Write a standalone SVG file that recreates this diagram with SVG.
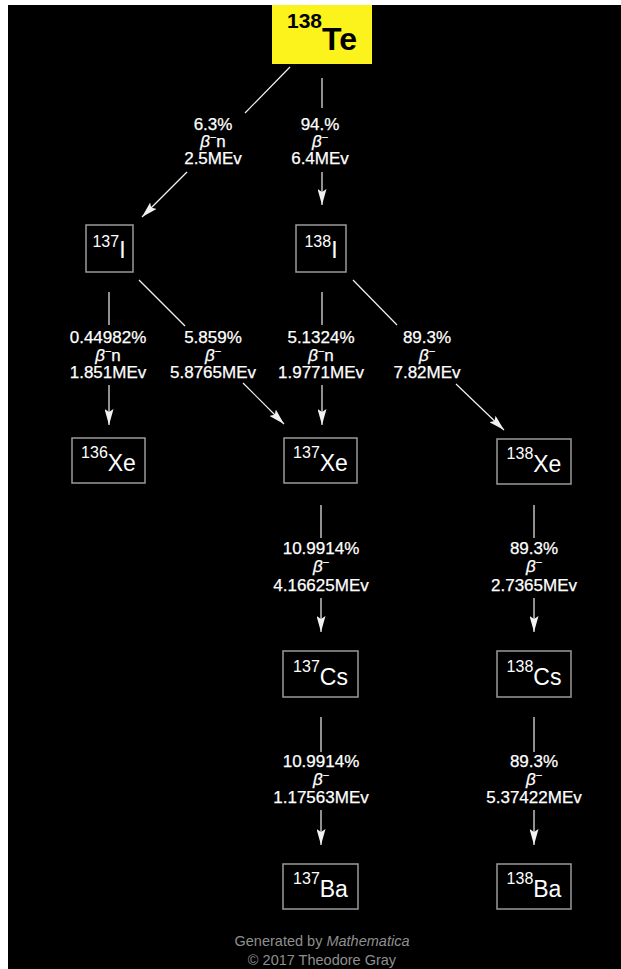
<svg xmlns="http://www.w3.org/2000/svg" width="621" height="969" viewBox="0 0 621 969">
  <style>
    .box { fill: #000; stroke: #9a9a9a; stroke-width: 1.5; }
    .mass { font-family: "Liberation Sans", Arial, sans-serif; font-size: 16px; fill: #fff; }
    .elem { font-family: "Liberation Sans", Arial, sans-serif; font-size: 23px; fill: #fff; }
    .lbl { font-family: "Liberation Sans", Arial, sans-serif; font-size: 17px; fill: #fff; text-anchor: middle; stroke: #fff; stroke-width: 0.25; }
    .beta { font-style: italic; }
    .edge { stroke: #f2f2f2; stroke-width: 1.2; fill: none; }
    .foot { font-family: "Liberation Sans", Arial, sans-serif; font-size: 14.5px; fill: #8f8f8f; text-anchor: middle; }
  </style>
  <defs>
    <marker id="arrow" viewBox="0 0 16 9" refX="16" refY="4.5" markerWidth="16" markerHeight="9" markerUnits="userSpaceOnUse" orient="auto">
      <path d="M0,0 L16,4.5 L0,9 L3,4.5 Z" fill="#f2f2f2"/>
    </marker>
  </defs>

  <rect x="0" y="0" width="621" height="969" fill="#fff"/>
  <rect x="8" y="5" width="613" height="964" fill="#000"/>

  <!-- decay paths -->
  <g id="connectors">
    <line class="edge" x1="290" y1="67" x2="245" y2="113"/>
    <line class="edge" x1="187" y1="172" x2="142" y2="217" marker-end="url(#arrow)"/>
    <line class="edge" x1="322" y1="78" x2="322" y2="108"/>
    <line class="edge" x1="322" y1="172" x2="322" y2="205" marker-end="url(#arrow)"/>

    <line class="edge" x1="109" y1="292" x2="109" y2="325"/>
    <line class="edge" x1="109" y1="385" x2="109" y2="425" marker-end="url(#arrow)"/>
    <line class="edge" x1="139" y1="280" x2="185" y2="326"/>
    <line class="edge" x1="243" y1="383" x2="284" y2="424" marker-end="url(#arrow)"/>
    <line class="edge" x1="322" y1="292" x2="322" y2="325"/>
    <line class="edge" x1="322" y1="385" x2="322" y2="425" marker-end="url(#arrow)"/>
    <line class="edge" x1="353" y1="280" x2="397" y2="325"/>
    <line class="edge" x1="456" y1="384" x2="504" y2="430" marker-end="url(#arrow)"/>

    <line class="edge" x1="321" y1="505" x2="321" y2="538"/>
    <line class="edge" x1="321" y1="598" x2="321" y2="632" marker-end="url(#arrow)"/>
    <line class="edge" x1="534" y1="505" x2="534" y2="538"/>
    <line class="edge" x1="534" y1="598" x2="534" y2="632" marker-end="url(#arrow)"/>

    <line class="edge" x1="321" y1="717" x2="321" y2="752"/>
    <line class="edge" x1="321" y1="810" x2="321" y2="845" marker-end="url(#arrow)"/>
    <line class="edge" x1="534" y1="717" x2="534" y2="752"/>
    <line class="edge" x1="534" y1="810" x2="534" y2="845" marker-end="url(#arrow)"/>
  </g>

  <!-- decay labels: branching ratio, mode, energy -->
  <g id="labels">
    <text class="lbl" x="213" y="130">6.3%</text>
    <text class="lbl" x="213" y="147"><tspan class="beta">β</tspan><tspan font-size="11" dy="-6">−</tspan><tspan dy="6">n</tspan></text>
    <text class="lbl" x="213" y="164">2.5MEv</text>

    <text class="lbl" x="320" y="130">94.%</text>
    <text class="lbl" x="320" y="147"><tspan class="beta">β</tspan><tspan font-size="11" dy="-6">−</tspan></text>
    <text class="lbl" x="320" y="164">6.4MEv</text>

    <text class="lbl" x="108" y="343">0.44982%</text>
    <text class="lbl" x="108" y="360.5"><tspan class="beta">β</tspan><tspan font-size="11" dy="-6">−</tspan><tspan dy="6">n</tspan></text>
    <text class="lbl" x="108" y="378">1.851MEv</text>

    <text class="lbl" x="213" y="343">5.859%</text>
    <text class="lbl" x="213" y="360.5"><tspan class="beta">β</tspan><tspan font-size="11" dy="-6">−</tspan></text>
    <text class="lbl" x="213" y="378">5.8765MEv</text>

    <text class="lbl" x="321" y="343">5.1324%</text>
    <text class="lbl" x="321" y="360.5"><tspan class="beta">β</tspan><tspan font-size="11" dy="-6">−</tspan><tspan dy="6">n</tspan></text>
    <text class="lbl" x="321" y="378">1.9771MEv</text>

    <text class="lbl" x="427" y="343">89.3%</text>
    <text class="lbl" x="427" y="360.5"><tspan class="beta">β</tspan><tspan font-size="11" dy="-6">−</tspan></text>
    <text class="lbl" x="427" y="378">7.82MEv</text>

    <text class="lbl" x="321" y="554">10.9914%</text>
    <text class="lbl" x="321" y="572"><tspan class="beta">β</tspan><tspan font-size="11" dy="-6">−</tspan></text>
    <text class="lbl" x="321" y="591">4.16625MEv</text>

    <text class="lbl" x="534" y="554">89.3%</text>
    <text class="lbl" x="534" y="572"><tspan class="beta">β</tspan><tspan font-size="11" dy="-6">−</tspan></text>
    <text class="lbl" x="534" y="591">2.7365MEv</text>

    <text class="lbl" x="321" y="767">10.9914%</text>
    <text class="lbl" x="321" y="785"><tspan class="beta">β</tspan><tspan font-size="11" dy="-6">−</tspan></text>
    <text class="lbl" x="321" y="803">1.17563MEv</text>

    <text class="lbl" x="534" y="767">89.3%</text>
    <text class="lbl" x="534" y="785"><tspan class="beta">β</tspan><tspan font-size="11" dy="-6">−</tspan></text>
    <text class="lbl" x="534" y="803">5.37422MEv</text>
  </g>

  <!-- nuclides -->
  <g id="Te138">
    <rect x="272" y="5" width="100" height="59" fill="#fcf31c"/>
    <text x="322" y="50" text-anchor="middle" font-family="'Liberation Sans', Arial, sans-serif" font-weight="bold" fill="#000"><tspan font-size="21" dy="-22">138</tspan><tspan font-size="32" dy="22">Te</tspan></text>
  </g>

  <g id="I137">
    <rect class="box" x="86" y="225" width="47" height="47"/>
    <text x="109" y="258" text-anchor="middle"><tspan class="mass" dy="-11">137</tspan><tspan class="elem" dy="11">I</tspan></text>
  </g>

  <g id="I138">
    <rect class="box" x="296" y="225" width="50" height="47"/>
    <text x="321" y="258" text-anchor="middle"><tspan class="mass" dy="-11">138</tspan><tspan class="elem" dy="11">I</tspan></text>
  </g>

  <g id="Xe136">
    <rect class="box" x="72" y="438" width="73" height="45"/>
    <text x="108.5" y="471" text-anchor="middle"><tspan class="mass" dy="-13">136</tspan><tspan class="elem" dy="13">Xe</tspan></text>
  </g>

  <g id="Xe137">
    <rect class="box" x="284" y="438" width="73" height="45"/>
    <text x="320.5" y="471" text-anchor="middle"><tspan class="mass" dy="-13">137</tspan><tspan class="elem" dy="13">Xe</tspan></text>
  </g>

  <g id="Xe138">
    <rect class="box" x="497" y="439" width="74" height="45"/>
    <text x="534" y="472" text-anchor="middle"><tspan class="mass" dy="-13">138</tspan><tspan class="elem" dy="13">Xe</tspan></text>
  </g>

  <g id="Cs137">
    <rect class="box" x="283" y="651" width="75" height="46"/>
    <text x="320.5" y="685" text-anchor="middle"><tspan class="mass" dy="-13">137</tspan><tspan class="elem" dy="13">Cs</tspan></text>
  </g>

  <g id="Cs138">
    <rect class="box" x="497" y="651" width="74" height="46"/>
    <text x="534" y="685" text-anchor="middle"><tspan class="mass" dy="-13">138</tspan><tspan class="elem" dy="13">Cs</tspan></text>
  </g>

  <g id="Ba137">
    <rect class="box" x="283" y="864" width="75" height="45"/>
    <text x="320.5" y="897" text-anchor="middle"><tspan class="mass" dy="-13">137</tspan><tspan class="elem" dy="13">Ba</tspan></text>
  </g>

  <g id="Ba138">
    <rect class="box" x="497" y="864" width="74" height="45"/>
    <text x="534" y="897" text-anchor="middle"><tspan class="mass" dy="-13">138</tspan><tspan class="elem" dy="13">Ba</tspan></text>
  </g>

  <g id="credits">
    <text class="foot" x="322" y="946">Generated by <tspan font-style="italic">Mathematica</tspan></text>
    <text class="foot" x="322" y="965">© 2017 Theodore Gray</text>
  </g>
</svg>
